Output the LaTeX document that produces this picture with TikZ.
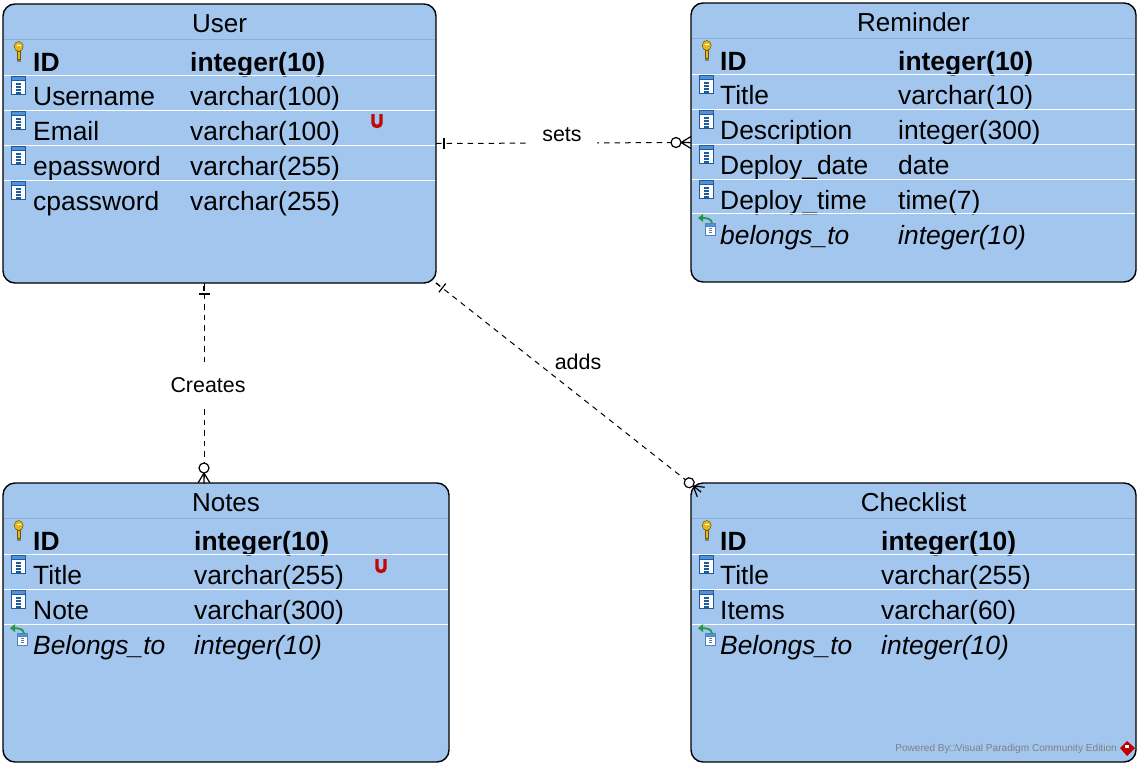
\documentclass[tikz,border=0pt]{standalone}
\usepackage{fontspec}
\setmainfont{Liberation Sans}
\definecolor{boxblue}{HTML}{A3C6EE}
\definecolor{titleline}{HTML}{8AAFD8}
\definecolor{iconblue}{HTML}{1F5A9A}
\definecolor{icontop}{HTML}{4F93DC}
\definecolor{keygold}{HTML}{E8B818}
\definecolor{fkgreen}{HTML}{1E9A4A}
\definecolor{ured}{HTML}{C00808}
\tikzset{
	entity/.style={draw,fill=boxblue,line width=1.4pt,rounded corners=12pt,anchor=north west,inner sep=0pt,outer sep=0pt},
	key text/.style={anchor=base west,inner sep=0pt,font=\fontsize{26.4}{27}\selectfont\bfseries},
	col text/.style={anchor=base west,inner sep=0pt,font=\fontsize{26.4}{27}\selectfont},
	fk text/.style={anchor=base west,inner sep=0pt,font=\fontsize{26.4}{27}\selectfont\itshape},
	title/.style={inner sep=0pt,font=\fontsize{26}{27}\selectfont},
	rel/.style={draw,line width=1pt,dash pattern=on 5.5pt off 5pt},
	rellabel/.style={fill=white,inner sep=0pt,font=\fontsize{21.4}{22}\selectfont},
	key icon/.pic={
		\fill[keygold,draw=black!55!keygold,line width=.5pt] (14,-10) rectangle (17.5,-2);
		\fill[black!50] (14,-2) rectangle (17.5,0);
		\fill[keygold,draw=black!55!keygold,line width=.5pt] (15.7,-15) ellipse (4.5pt and 5pt);
		\fill[white] (13.7,-17) rectangle (17.7,-15.5);
	},
	col icon/.pic={
		\fill[iconblue] (8,-20) rectangle (23,-1);
		\fill[white] (9,-15) rectangle (22,-2);
		\fill[icontop] (9,-19) rectangle (22,-16);
		\foreach \k in {-13,-10,-7,-4} \fill[iconblue] (13,\k) rectangle (18,\k+1.5);
	},
	fk icon/.pic={
		\fill[iconblue!75] (14,-12) rectangle (25,1);
		\fill[white] (15,-8) rectangle (24,0);
		\fill[icontop] (15,-11) rectangle (24,-9);
		\foreach \k in {-7,-5,-3} \fill[iconblue!80] (18,\k) rectangle (21,\k+1.2);
		\draw[fkgreen,line width=1.8pt] (21,-12) .. controls (20,-17) and (15,-17) .. (10,-17);
		\fill[fkgreen] (7,-17) -- (12,-21) -- (12,-13) -- cycle;
	},
	ubadge/.pic={
		\draw[ured,line width=3.4pt] (-4,-7) -- (-4,2) .. controls (-4,6.5) and (4,6.5) .. (4,2) -- (4,-7);
	},
	crowfoot/.pic={
		\draw[line width=1.2pt] (0,0) -- (10,0) (0,-6) -- (10,0) -- (0,6);
		\draw[line width=1.2pt,fill=white] (15,0) circle (5pt);
	},
	onebar/.pic={
		\draw[line width=1.2pt] (0,0) -- (5,0) (8,-5.5) -- (8,5.5);
	}
}
\newcommand{\entitybox}[8]{
	\node[entity,minimum width=#4pt,minimum height=#5pt] (#1) at (#2,#3) {};
	\node[title] (#1-title) at (#2+#4/2,#3+19.5) {#1};
	\draw[titleline,line width=.8pt] (#2+1,#3+35.5) -- (#2+#4-1,#3+35.5);
	\foreach \ic/\nm/\ty [count=\i] in {#8} {
		\pgfmathsetmacro{\rowy}{#3+57.5+34.9*(\i-1)}
		\ifnum\i>1 \draw[white,line width=1pt] (#2+1,\rowy-21.1) -- (#2+#4-1,\rowy-21.1); \fi
		\pic at (#2,\rowy) {\ic\space icon};
		\node[\ic\space text] (#1-\i-name) at (#2+#6,\rowy+9.5) {\nm};
		\node[\ic\space text] (#1-\i-type) at (#2+#7,\rowy+9.5) {\ty};
	}
}
\begin{document}
\begin{tikzpicture}[x=1pt,y=-1pt]
	\useasboundingbox (0,0) rectangle (1140,766);
	\entitybox{User}{3}{4}{433}{279}{30}{187}{key/ID/integer(10),col/Username/varchar(100),col/Email/varchar(100),col/epassword/varchar(255),col/cpassword/varchar(255)}
	\entitybox{Reminder}{691}{3}{445}{279}{29}{207}{key/ID/integer(10),col/Title/varchar(10),col/Description/integer(300),col/Deploy\_date/date,col/Deploy\_time/time(7),fk/belongs\_to/integer(10)}
	\entitybox{Notes}{3}{483}{446}{279}{30}{191}{key/ID/integer(10),col/Title/varchar(255),col/Note/varchar(300),fk/Belongs\_to/integer(10)}
	\entitybox{Checklist}{691}{483}{445}{279}{29}{190}{key/ID/integer(10),col/Title/varchar(255),col/Items/varchar(60),fk/Belongs\_to/integer(10)}
	\pic at (377,121) {ubadge};
	\pic at (381,566) {ubadge};
	\coordinate (userfoot) at (204,283);
	\coordinate (notestop) at (204,483);
	\coordinate (checkcorner) at (701,492);
	\draw[rel] (User.east) -- (Reminder.west);
	\draw[rel] (userfoot) -- (notestop);
	\draw[rel] (User.south east) -- (checkcorner);
	\pic at (User.east) {onebar};
	\pic[rotate=-90,xshift=3pt] at (userfoot) {onebar};
	\pic[rotate=-38] at (User.south east) {onebar};
	\pic[rotate=180] at (Reminder.west) {crowfoot};
	\pic[rotate=90] at (notestop) {crowfoot};
	\pic[rotate=142] at (checkcorner) {crowfoot};
	\node[rellabel,minimum width=70pt,minimum height=24pt] (sets) at (562,135) {sets};
	\node[rellabel,minimum width=76pt,minimum height=42pt] (creates) at (208,385) {Creates};
	\node[rellabel,fill=none] (adds) at (578,362) {adds};
	\node[inner sep=0pt,anchor=east,text=black!50,font=\fontsize{10.1}{11}\selectfont] (powered) at (1117,749) {Powered By□Visual Paradigm Community Edition};
	\fill[red!75!black] (1127,741) -- (1135,748) -- (1127,756) -- (1120,748) -- cycle;
	\fill[white] (1125,745) rectangle (1129,748);
\end{tikzpicture}
\end{document}
